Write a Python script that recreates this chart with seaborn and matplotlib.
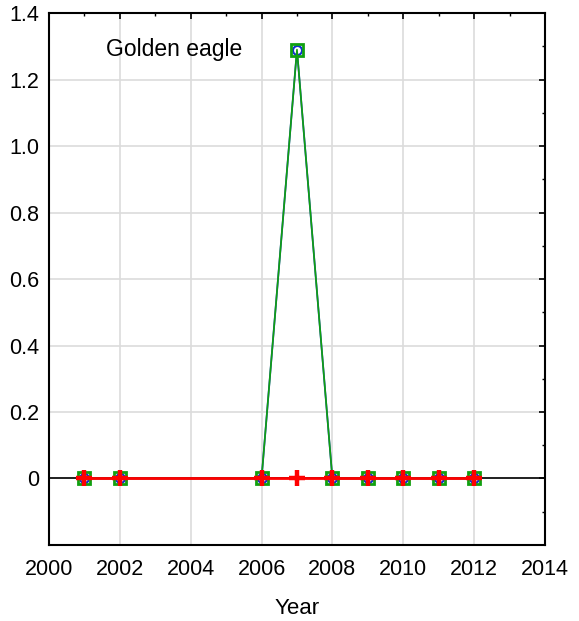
import numpy as np
import pandas as pd
import matplotlib
matplotlib.use("Agg")
import matplotlib.pyplot as plt
import seaborn as sns
from matplotlib.ticker import MultipleLocator

# data
years = [2001, 2002, 2006, 2007, 2008, 2009, 2010, 2011, 2012]
observed = [0, 0, 0, 1.29, 0, 0, 0, 0, 0]
fitted = [0, 0, 0, 1.29, 0, 0, 0, 0, 0]
baseline = [0, 0, 0, 0, 0, 0, 0, 0, 0]

df = pd.DataFrame({"Year": years, "observed": observed,
                   "fitted": fitted, "baseline": baseline})

sns.set_style("white")
plt.rcParams['font.family'] = ['Liberation Sans', 'DejaVu Sans']
plt.rcParams['text.color'] = 'black'
plt.rcParams['axes.labelcolor'] = 'black'
plt.rcParams['xtick.labelcolor'] = 'black'
plt.rcParams['ytick.labelcolor'] = 'black'

fig = plt.figure(figsize=(5.79, 6.21), dpi=100)
ax = fig.add_axes([0.0846, 0.1224, 0.8566, 0.8566])

ax.axhline(0, color="black", lw=1.2, zorder=1)

sns.lineplot(data=df, x="Year", y="observed", ax=ax, color="#1f3fbf", lw=1.3,
             marker="o", markersize=6.5, markerfacecolor="white",
             markeredgecolor="#1030d0", markeredgewidth=1.5, zorder=3)
sns.lineplot(data=df, x="Year", y="fitted", ax=ax, color="#10a010", lw=1.2,
             marker="s", markersize=8.5, markerfacecolor="none",
             markeredgecolor="#10a010", markeredgewidth=2, zorder=4)
sns.lineplot(data=df, x="Year", y="baseline", ax=ax, color="red", lw=2,
             zorder=5)
ax.plot(df["Year"], df["baseline"], ls="none", marker="+", markersize=11,
        markeredgewidth=3.2, color="red", zorder=6)

ax.set_xlim(2000, 2014)
ax.set_ylim(-0.2, 1.4)
ax.xaxis.set_major_locator(MultipleLocator(2))
ax.xaxis.set_minor_locator(MultipleLocator(1))
ax.yaxis.set_major_locator(MultipleLocator(0.2))
ax.yaxis.set_minor_locator(MultipleLocator(0.1))

yt = np.round(np.arange(-0.2, 1.41, 0.2), 1)
ax.set_yticks(yt)
ax.set_yticklabels(["" if v < 0 else ("0" if v == 0 else f"{v:.1f}") for v in yt])

ax.grid(True, which="major", color="#dcdcdc", lw=1.2)
ax.set_axisbelow(True)
ax.tick_params(which="both", direction="in", top=True, right=True, labelsize=15.5,
               color="black", labelcolor="black")
ax.tick_params(which="major", length=4, width=1.2)
ax.tick_params(axis="x", which="major", pad=10)
ax.tick_params(axis="y", which="major", pad=7)
ax.tick_params(which="minor", length=2, width=1)
for s in ax.spines.values():
    s.set_color("black")
    s.set_linewidth(1.5)

ax.set_xlabel("Year", fontsize=16, labelpad=13, color="black")
ax.set_ylabel("")
ax.text(2001.6, 1.29, "Golden eagle", fontsize=16.5, va="center", ha="left",
        color="black")

fig.savefig("out.png", dpi=100)
